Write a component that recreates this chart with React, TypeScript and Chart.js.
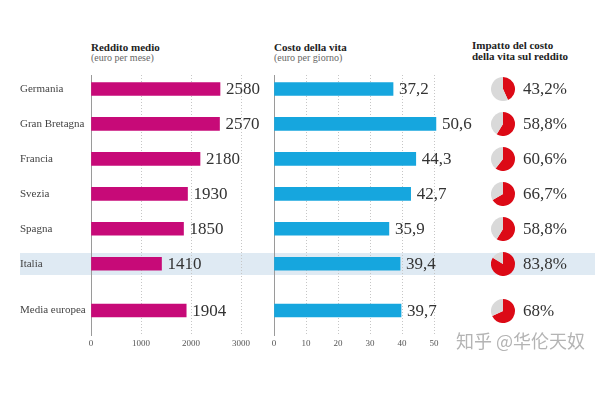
import React, { useEffect, useRef } from "react";
import { Chart, registerables } from "chart.js";

Chart.register(...registerables);

// ---- data ----
const countries = ["Germania", "Gran Bretagna", "Francia", "Svezia", "Spagna", "Italia", "Media europea"];
const income = [2580, 2570, 2180, 1930, 1850, 1410, 1904];
const cost = [37.2, 50.6, 44.3, 42.7, 35.9, 39.4, 39.7];
const impact = [43.2, 58.8, 60.6, 66.7, 58.8, 83.8, 68];
const incomeTicks = [0, 1000, 2000, 3000];
const costTicks = [0, 10, 20, 30, 40, 50];
const highlighted = "Italia";

// ---- layout / style ----
const GROUP_GAP = 0.34; // extra gap before the European average row
const rowPos = countries.map((_, i) => (i === countries.length - 1 ? i + GROUP_GAP : i));
const SERIF = "'Liberation Serif', 'Times New Roman', serif";
const MAGENTA = "#c70a78";
const CYAN = "#16a6de";
const RED = "#dc0a16";
const PIE_GREY = "#d9d9d9";
const BAND = "#dfeaf3";
const PIE_CX = 503;
const PIE_SIZE = 24;
const IMPACT_LABEL_X = 523;

Chart.defaults.font.family = SERIF;

const fmt = (v: number) => (Number.isInteger(v) ? String(v) : v.toFixed(1).replace(".", ","));

function valueLabels(values: number[]) {
  return {
    id: "valueLabels",
    afterDatasetsDraw(chart: any) {
      const ctx = chart.ctx;
      const meta = chart.getDatasetMeta(0);
      ctx.save();
      ctx.font = `17px ${SERIF}`;
      ctx.fillStyle = "#333";
      ctx.textBaseline = "middle";
      ctx.textAlign = "left";
      meta.data.forEach((bar: any, i: number) => {
        ctx.fillText(fmt(values[i]), bar.x + 6, bar.y + 1);
      });
      ctx.restore();
    },
  };
}

const impactLabels = {
  id: "impactLabels",
  afterDatasetsDraw(chart: any) {
    const ctx = chart.ctx;
    const y = chart.scales.y;
    ctx.save();
    ctx.font = `17px ${SERIF}`;
    ctx.fillStyle = "#333";
    ctx.textBaseline = "middle";
    ctx.textAlign = "left";
    impact.forEach((v, i) => {
      ctx.fillText(fmt(v) + "%", IMPACT_LABEL_X, y.getPixelForValue(rowPos[i]) + 1);
    });
    ctx.restore();
  },
};

function barConfig(values: number[], ticks: number[], color: string, showLabels: boolean, padLeft: number, padRight: number, extra: any[]) {
  return {
    type: "bar" as const,
    data: {
      datasets: [
        {
          data: values.map((v, i) => ({ x: v, y: rowPos[i] })),
          backgroundColor: color,
          barThickness: 13,
          clip: false as any,
        },
      ],
    },
    options: {
      indexAxis: "y" as const,
      responsive: false,
      animation: false as const,
      events: [] as any[],
      layout: { padding: { left: padLeft, right: padRight, top: 75, bottom: 45 } },
      plugins: { legend: { display: false }, tooltip: { enabled: false } },
      scales: {
        x: {
          type: "linear" as const,
          bounds: "data" as const,
          offset: false,
          min: ticks[0],
          max: ticks[ticks.length - 1],
          afterBuildTicks: (axis: any) => {
            axis.ticks = ticks.map((v) => ({ value: v }));
          },
          afterFit: (axis: any) => {
            axis.height = 20;
          },
          grid: {
            offset: false,
            color: (c: any) => (c.tick && c.tick.value === 0 ? "transparent" : "#c6c6c6"),
            drawTicks: false,
            lineWidth: 1,
          },
          border: { display: false, dash: [1, 2] },
          ticks: {
            padding: 3,
            color: "#555",
            font: { size: 9 },
            maxRotation: 0,
            autoSkip: false,
            callback: (v: any) => String(v),
          },
        },
        y: {
          type: "linear" as const,
          bounds: "data" as const,
          offset: false,
          reverse: true,
          min: -0.4,
          max: rowPos[rowPos.length - 1] + 0.7,
          afterBuildTicks: (axis: any) => {
            axis.ticks = rowPos.map((v) => ({ value: v }));
          },
          afterFit: (axis: any) => {
            axis.width = showLabels ? 71 : 0;
          },
          grid: { display: false, offset: false },
          border: { display: true, color: "#9a9a9a", width: 1 },
          ticks: {
            display: showLabels,
            crossAlign: "far" as const,
            padding: 0,
            color: "#444",
            font: { size: 11 },
            autoSkip: false,
            callback: (_v: any, i: number) => countries[i],
          },
        },
      },
    },
    plugins: [valueLabels(values), ...extra],
  };
}

export default function App() {
  const incomeRef = useRef<HTMLCanvasElement>(null);
  const costRef = useRef<HTMLCanvasElement>(null);
  const bandRef = useRef<HTMLDivElement>(null);
  const pieRefs = useRef<(HTMLCanvasElement | null)[]>([]);

  useEffect(() => {
    const charts: Chart[] = [];
    const c1 = new Chart(incomeRef.current!, barConfig(income, incomeTicks, MAGENTA, true, 20, 600 - 241, []) as any);
    const c2 = new Chart(costRef.current!, barConfig(cost, costTicks, CYAN, false, 274, 600 - 434, [impactLabels]) as any);
    charts.push(c1, c2);

    const yScale = c1.scales.y;
    const hi = countries.indexOf(highlighted);
    if (bandRef.current && hi >= 0) {
      const yy = yScale.getPixelForValue(rowPos[hi]);
      bandRef.current.style.top = `${yy - 11}px`;
    }

    impact.forEach((v, i) => {
      const cv = pieRefs.current[i];
      if (!cv) return;
      const yy = yScale.getPixelForValue(rowPos[i]);
      cv.style.top = `${yy - PIE_SIZE / 2}px`;
      charts.push(
        new Chart(cv, {
          type: "pie",
          data: {
            datasets: [
              {
                data: [v, 100 - v],
                backgroundColor: [RED, PIE_GREY],
                borderWidth: 0,
                hoverOffset: 0,
                offset: 0,
              },
            ],
          },
          options: {
            responsive: false,
            animation: false,
            events: [],
            layout: { padding: 0 },
            plugins: { legend: { display: false }, tooltip: { enabled: false } },
          },
        } as any)
      );
    });

    return () => charts.forEach((c) => c.destroy());
  }, []);

  const title: React.CSSProperties = {
    position: "absolute",
    fontFamily: SERIF,
    fontWeight: "bold",
    fontSize: 11,
    lineHeight: "12px",
    color: "#222",
    whiteSpace: "nowrap",
  };
  const sub: React.CSSProperties = {
    position: "absolute",
    fontFamily: SERIF,
    fontSize: 10,
    lineHeight: "11px",
    color: "#666",
    whiteSpace: "nowrap",
  };
  const full: React.CSSProperties = { position: "absolute", left: 0, top: 0, display: "block" };

  return (
    <div style={{ position: "fixed", left: 0, top: 0, width: 600, height: 400, background: "#fff", overflow: "hidden" }}>
      <div ref={bandRef} style={{ position: "absolute", left: 20, width: 575, height: 22, top: 252, background: BAND }} />
      <div style={{ ...title, left: 91, top: 41 }}>Reddito medio</div>
      <div style={{ ...sub, left: 91, top: 52 }}>(euro per mese)</div>
      <div style={{ ...title, left: 274, top: 41 }}>Costo della vita</div>
      <div style={{ ...sub, left: 274, top: 52 }}>(euro per giorno)</div>
      <div style={{ ...title, left: 472, top: 40, lineHeight: "11px" }}>
        Impatto del costo
        <br />
        della vita sul reddito
      </div>
      <canvas ref={incomeRef} width={600} height={400} style={full} />
      <canvas ref={costRef} width={600} height={400} style={full} />
      {impact.map((_, i) => (
        <canvas
          key={i}
          ref={(el) => {
            pieRefs.current[i] = el;
          }}
          width={PIE_SIZE}
          height={PIE_SIZE}
          style={{ position: "absolute", left: PIE_CX - PIE_SIZE / 2, top: 0, display: "block" }}
        />
      ))}
      <div
        style={{
          position: "absolute",
          left: 456,
          top: 329,
          fontFamily: "'Noto Sans CJK SC', sans-serif",
          fontSize: 18,
          lineHeight: "22px",
          color: "#b4b4b4",
          whiteSpace: "nowrap",
        }}
      >
        知乎 @华伦天奴
      </div>
    </div>
  );
}
